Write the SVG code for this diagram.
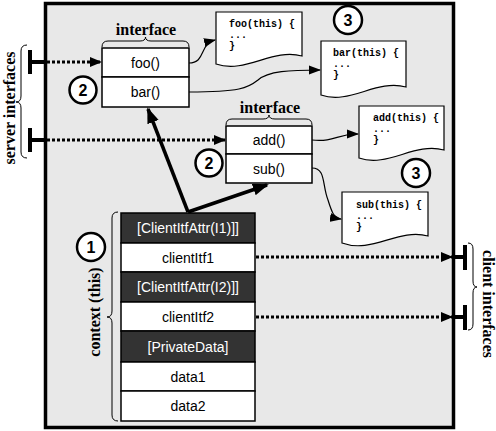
<svg xmlns="http://www.w3.org/2000/svg" width="496" height="431" viewBox="0 0 496 431">
<defs>
<marker id="ah" markerUnits="userSpaceOnUse" markerWidth="12" markerHeight="10" refX="11" refY="5" orient="auto"><path d="M0,0 L12,5 L0,10 Z" fill="#000"/></marker>
<marker id="ahs" markerUnits="userSpaceOnUse" markerWidth="12" markerHeight="10" refX="11" refY="5" orient="auto"><path d="M0,0.5 L12,5 L0,9.5 Z" fill="#000"/></marker>
<marker id="ahb" markerUnits="userSpaceOnUse" markerWidth="16" markerHeight="12" refX="14" refY="6" orient="auto"><path d="M0,0 L16,6 L0,12 Z" fill="#000"/></marker>
</defs>
<style>
.lbl{font-family:"Liberation Sans",Arial,sans-serif;font-size:14px;fill:#000;text-anchor:middle}
.dlbl{font-family:"Liberation Sans",Arial,sans-serif;font-size:14px;fill:#fff;text-anchor:middle}
.serif{font-family:"Liberation Serif","Times New Roman",serif;font-weight:bold;font-size:16px;fill:#000;text-anchor:middle}
.code{font-family:"Liberation Mono","Courier New",monospace;font-weight:bold;font-size:10px;fill:#000}
.num{font-family:"Liberation Sans",Arial,sans-serif;font-weight:bold;font-size:16px;fill:#000;text-anchor:middle}
.box{fill:#fff;stroke:#000;stroke-width:1.5}
.dark{fill:#333;stroke:#000;stroke-width:1.5}
.circ{fill:#fff;stroke:#000;stroke-width:2.5}
.doc{fill:#fff;stroke:#000;stroke-width:1.2}
.brace{fill:none;stroke:#000;stroke-width:1}
.dot{fill:none;stroke:#000;stroke-width:3;stroke-dasharray:3 2}
.thin{fill:none;stroke:#000;stroke-width:1.2}
.thick{fill:none;stroke:#000;stroke-width:3.5}
.tbar{fill:none;stroke:#000;stroke-width:4}
</style>
<rect id="component" x="45.5" y="3.5" width="408" height="424" fill="#e8e8e8" stroke="#000" stroke-width="3.5"/>

<g id="labels">
<text class="serif" transform="translate(15,108) rotate(-90)" font-size="17">server interfaces</text>
<path class="brace" d="M27,45 Q21,45 21,51 L21,96 Q21,102 16,102 Q21,102 21,108 L21,152 Q21,158 27,158"/>
<text class="serif" transform="translate(483,304) rotate(90)" font-size="15">client interfaces</text>
<path class="brace" d="M468,243 Q473,243 473,249 L473,281 Q473,287 477,287 Q473,287 473,293 L473,324 Q473,330 468,330"/>
<text class="serif" transform="translate(100,312) rotate(-90)">context (this)</text>
<path class="brace" d="M118,212 Q112,212 112,218 L112,311 Q112,317 107,317 Q112,317 112,323 L112,415 Q112,421 118,421"/>
</g>

<g id="iface1">
<text class="serif" x="146" y="35">interface</text>
<path class="brace" d="M102,47 Q102,41 108,41 L140,41 Q145.5,41 145.5,37 Q145.5,41 151,41 L183,41 Q189,41 189,47"/>
<rect class="box" x="102" y="48" width="87" height="29"/>
<rect class="box" x="102" y="77" width="87" height="30"/>
<text class="lbl" x="145.5" y="67.5">foo()</text>
<text class="lbl" x="145.5" y="97">bar()</text>
<circle class="circ" cx="83" cy="90" r="13.5"/>
<text class="num" x="83" y="96">2</text>
</g>

<g id="iface2">
<text class="serif" x="270" y="113">interface</text>
<path class="brace" d="M226,125 Q226,119 232,119 L263,119 Q269,119 269,115 Q269,119 275,119 L306,119 Q312,119 312,125"/>
<rect class="box" x="226" y="126" width="86" height="28"/>
<rect class="box" x="226" y="154" width="86" height="29"/>
<text class="lbl" x="269" y="145">add()</text>
<text class="lbl" x="269" y="173.5">sub()</text>
<circle class="circ" cx="209" cy="163" r="13.5"/>
<text class="num" x="209" y="169">2</text>
</g>

<g id="doc-foo">
<path class="doc" d="M216,12 H302 V56 C272,48 246,74 216,64 Z"/>
<text class="code" x="229" y="27">foo(this) {</text>
<text class="code" x="229" y="38">...</text>
<text class="code" x="229" y="49">}</text>
</g>
<g id="doc-bar">
<path class="doc" d="M321,41 H406 V87 C376,79 350,105 321,95 Z"/>
<text class="code" x="333" y="56">bar(this) {</text>
<text class="code" x="333" y="67">...</text>
<text class="code" x="333" y="78">}</text>
<circle class="circ" cx="348" cy="20" r="14"/>
<text class="num" x="348" y="26">3</text>
</g>
<g id="doc-add">
<path class="doc" d="M359,106 H444 V150 C414,142 388,168 359,158 Z"/>
<text class="code" x="373" y="121">add(this) {</text>
<text class="code" x="373" y="132">...</text>
<text class="code" x="373" y="143">}</text>
<circle class="circ" cx="416" cy="173" r="14"/>
<text class="num" x="416" y="179">3</text>
</g>
<g id="doc-sub">
<path class="doc" d="M342,192 H428 V236 C398,228 372,254 342,243 Z"/>
<text class="code" x="356" y="208">sub(this) {</text>
<text class="code" x="356" y="219">...</text>
<text class="code" x="356" y="230">}</text>
</g>

<g id="context">
<rect class="dark" x="121" y="213" width="134" height="30"/>
<text class="dlbl" x="188" y="233">[ClientItfAttr(I1)]]</text>
<rect class="box" x="121" y="243" width="134" height="29"/>
<text class="lbl" x="188" y="262.5">clientItf1</text>
<rect class="dark" x="121" y="272" width="134" height="30"/>
<text class="dlbl" x="188" y="292">[ClientItfAttr(I2)]]</text>
<rect class="box" x="121" y="302" width="134" height="29"/>
<text class="lbl" x="188" y="321.5">clientItf2</text>
<rect class="dark" x="121" y="331" width="134" height="31"/>
<text class="dlbl" x="188" y="351.5">[PrivateData]</text>
<rect class="box" x="121" y="362" width="134" height="29"/>
<text class="lbl" x="188" y="381.5">data1</text>
<rect class="box" x="121" y="391" width="134" height="30"/>
<text class="lbl" x="188" y="411">data2</text>
<circle class="circ" cx="91" cy="247" r="14"/>
<text class="num" x="91" y="253">1</text>
</g>

<g id="connectors">
<path class="tbar" d="M30,50 V74 M30,62 H46"/>
<path class="tbar" d="M30,128 V152 M30,140 H46"/>
<path class="dot" d="M47,62 H101" marker-end="url(#ah)"/>
<path class="dot" d="M47,140 H225" marker-end="url(#ah)"/>
<path class="tbar" d="M465,245 V270 M453,257 H465"/>
<path class="tbar" d="M465,305 V330 M453,317 H465"/>
<path class="dot" d="M256,257 H452" marker-end="url(#ah)"/>
<path class="dot" d="M256,317 H452" marker-end="url(#ah)"/>
<path class="thick" d="M188,212 L148,109" marker-end="url(#ahb)"/>
<path class="thick" d="M188,212 L267,185" marker-end="url(#ahb)"/>
<path class="thin" d="M189,63 C206,63 199,44 215,40" marker-end="url(#ahs)"/>
<path class="thin" d="M189,92 C240,92 248,88 258,80 C268,71 290,70 320,70" marker-end="url(#ahs)"/>
<path class="thin" d="M312,140 C336,142 336,134 358,134" marker-end="url(#ahs)"/>
<path class="thin" d="M312,168 C326,168 322,185 328,200 C332,213 334,218 341,219" marker-end="url(#ahs)"/>
</g>
</svg>
